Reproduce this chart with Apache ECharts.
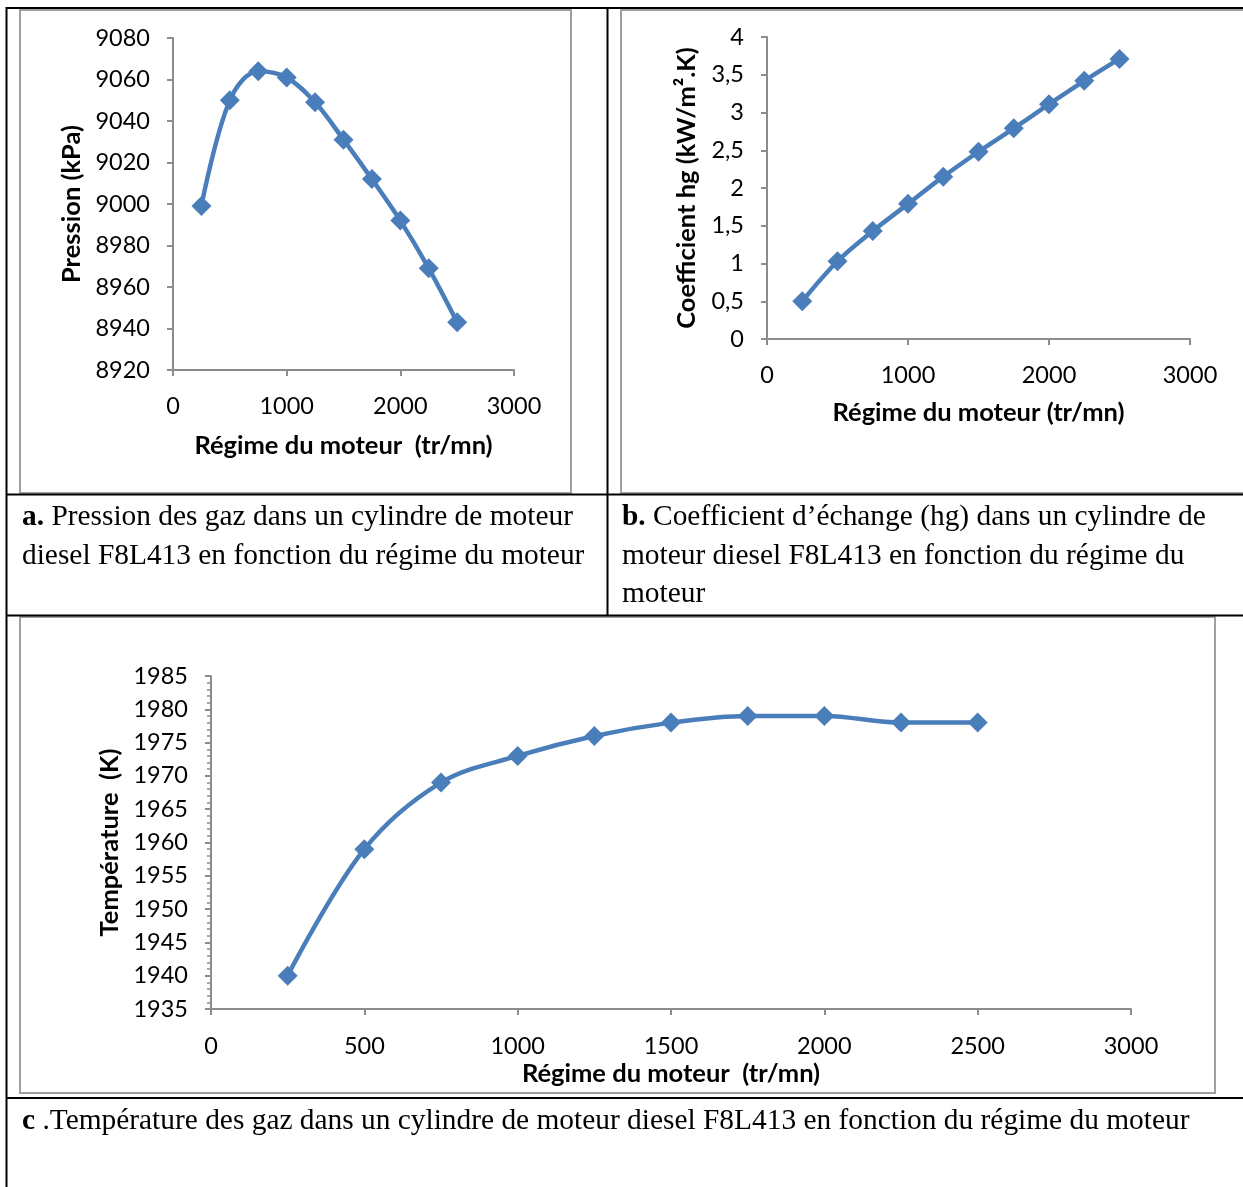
<!DOCTYPE html>
<html>
<head>
<meta charset="utf-8">
<script src="https://cdn.jsdelivr.net/npm/echarts@6/dist/echarts.min.js"></script>
<style>
  html, body { margin: 0; padding: 0; background: #fff; }
  #chart { width: 1243px; height: 1187px; }
</style>
</head>
<body>
<div id="chart"></div>
<script>
// Engine speed (tr/mn) shared by the three plots
const rpm = [250, 500, 750, 1000, 1250, 1500, 1750, 2000, 2250, 2500];
// a. gas pressure in the cylinder (kPa)
const pression = [8999, 9050, 9064, 9061, 9049, 9031, 9012, 8992, 8969, 8943];
// b. heat exchange coefficient hg (kW/m².K)
const hg = [0.50, 1.03, 1.43, 1.79, 2.15, 2.48, 2.79, 3.11, 3.42, 3.71];
// c. gas temperature (K)
const temperature = [1940, 1959, 1969, 1973, 1976, 1978, 1979, 1979, 1978, 1978];

const captionA = ['Pression des gaz dans un cylindre de moteur',
                  'diesel F8L413 en fonction du régime du moteur'];
const captionB = ['Coefficient d’échange (hg) dans un cylindre de',
                  'moteur diesel F8L413 en fonction du régime du',
                  'moteur'];
const captionC = '.Température des gaz dans un cylindre de moteur diesel F8L413 en fonction du régime du moteur';

const LINE = '#4a7ebb';
const AXIS = '#8c8c8c';
const SANS = 'Lato';
const SERIF = 'Liberation Serif';
const CAP_SIZE = 29.4;

const pairs = (ys) => rpm.map((x, i) => [x, ys[i]]);
// plain numbers, decimal comma, no thousands separator
const fmt = (v) => String(v).replace('.', ',');

function xAxis(gridIndex, interval, nameGap, margin) {
  return {
    type: 'value', gridIndex, min: 0, max: 3000, interval,
    name: gridIndex === 1 ? 'Régime du moteur (tr/mn)' : 'Régime du moteur  (tr/mn)',
    nameLocation: 'middle', nameGap,
    nameTextStyle: { fontFamily: SANS, fontWeight: 'bold', fontSize: 25.5, color: '#000' },
    axisLine: { show: true, lineStyle: { color: AXIS, width: 2 } },
    axisTick: { show: true, length: 6, lineStyle: { color: AXIS, width: 2 } },
    axisLabel: { fontFamily: SANS, fontSize: 23.5, color: '#000', margin, formatter: fmt },
    splitLine: { show: false }
  };
}

function yAxis(gridIndex, opts) {
  return Object.assign({
    type: 'value', gridIndex,
    nameLocation: 'middle', nameRotate: 90,
    nameTextStyle: { fontFamily: SANS, fontWeight: 'bold', fontSize: 25.5, color: '#000' },
    axisLine: { show: true, lineStyle: { color: AXIS, width: 2 } },
    axisTick: { show: true, length: 6, lineStyle: { color: AXIS, width: 2 } },
    axisLabel: { fontFamily: SANS, fontSize: 23.5, color: '#000', margin: 23, formatter: fmt },
    splitLine: { show: false }
  }, opts);
}

function lineSeries(idx, ys) {
  return {
    type: 'line', xAxisIndex: idx, yAxisIndex: idx,
    data: pairs(ys), smooth: 0.35,
    symbol: 'diamond', symbolSize: 20,
    lineStyle: { color: LINE, width: 4.5 },
    itemStyle: { color: LINE, borderWidth: 0 },
    emphasis: { disabled: true }
  };
}

// table rules and chart frames
function hline(y, x1, x2) {
  return { type: 'line', shape: { x1, y1: y, x2, y2: y }, style: { stroke: '#000', lineWidth: 2 }, silent: true };
}
function vline(x, y1, y2) {
  return { type: 'line', shape: { x1: x, y1, x2: x, y2 }, style: { stroke: '#000', lineWidth: 2 }, silent: true };
}
function frame(x, y, w, h) {
  return { type: 'rect', shape: { x, y, width: w, height: h }, style: { fill: null, stroke: '#a0a0a0', lineWidth: 2 }, silent: true };
}
function caption(x, y, text) {
  return {
    type: 'text', silent: true,
    style: {
      x, y, text, fill: '#000', fontFamily: SERIF, fontSize: CAP_SIZE,
      verticalAlign: 'middle', textVerticalAlign: 'middle', align: 'left', textAlign: 'left',
      rich: { b: { fontFamily: SERIF, fontSize: CAP_SIZE, fontWeight: 'bold', fill: '#000' } }
    }
  };
}

const graphics = [
  frame(20, 10, 551, 483),
  frame(621, 10, 640, 483),
  frame(20, 617, 1195, 476),
  hline(8, 6, 1243),
  hline(494.5, 6, 1243),
  hline(615.5, 6, 1243),
  hline(1098, 6, 1243),
  vline(6.5, 7, 1187),
  vline(607.5, 8, 615),
  caption(22, 517, '{b|a.} ' + captionA[0]),
  caption(22, 556, captionA[1]),
  caption(622, 517, '{b|b.} ' + captionB[0]),
  caption(622, 556, captionB[1]),
  caption(622, 594, captionB[2]),
  caption(22, 1121, '{b|c} ' + captionC)
];

const chart = echarts.init(document.getElementById('chart'), null, { renderer: 'canvas' });
chart.setOption({
  animation: false,
  backgroundColor: '#fff',
  grid: [
    { left: 173, top: 38, width: 341, height: 332 },
    { left: 767, top: 37, width: 423, height: 302 },
    { left: 211, top: 676, width: 920, height: 333 }
  ],
  xAxis: [
    xAxis(0, 1000, 63, 24),
    xAxis(1, 1000, 61, 24),
    xAxis(2, 500, 52, 25)
  ],
  yAxis: [
    yAxis(0, { min: 8920, max: 9080, interval: 20, name: 'Pression (kPa)', nameGap: 88 }),
    yAxis(1, { min: 0, max: 4, interval: 0.5, name: 'Coefficient hg (kW/m².K)', nameGap: 67 }),
    yAxis(2, { min: 1935, max: 1985, interval: 5, name: 'Température  (K)', nameGap: 88,
      minorTick: { show: true, splitNumber: 5, length: 4, lineStyle: { color: AXIS, width: 1.5 } } })
  ],
  series: [
    lineSeries(0, pression),
    lineSeries(1, hg),
    lineSeries(2, temperature)
  ],
  graphic: { elements: graphics }
});
</script>
</body>
</html>
